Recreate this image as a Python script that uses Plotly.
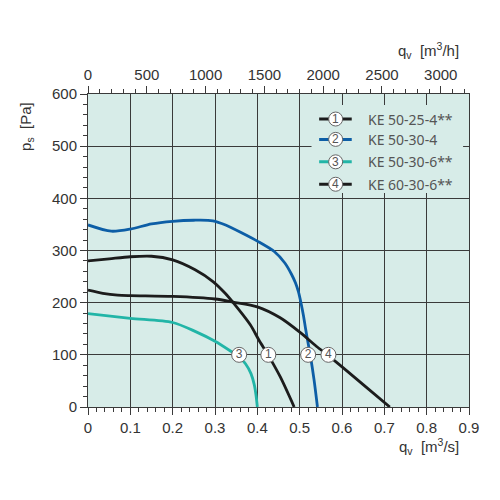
import plotly.graph_objects as go

# Fan curves, static pressure [Pa] over air flow [m3/s]
q_ke50254 = [0, 0.05, 0.1, 0.15, 0.2, 0.253, 0.296, 0.324, 0.343, 0.383, 0.404, 0.426, 0.454, 0.487]
p_ke50254 = [280, 284, 288, 289, 282, 263, 240, 218, 200, 158, 128, 99, 58, 0]

q_ke50304 = [0, 0.055, 0.1, 0.15, 0.2, 0.25, 0.295, 0.325, 0.365, 0.40, 0.44, 0.465, 0.481, 0.49, 0.497, 0.503, 0.509, 0.514, 0.520, 0.526, 0.534, 0.542]
p_ke50304 = [349, 337, 341, 351, 356, 358, 357, 349, 333, 318, 298, 276, 254, 238, 221, 200, 175, 150, 122, 95, 52, 0]

q_ke50306 = [0, 0.1, 0.2, 0.253, 0.30, 0.339, 0.357, 0.372, 0.385, 0.393, 0.397, 0.40]
p_ke50306 = [179, 170, 162, 145, 126, 106, 96, 83, 64, 42, 22, 0]

q_ke60306 = [0, 0.035, 0.07, 0.1, 0.2, 0.3, 0.343, 0.40, 0.454, 0.501, 0.54, 0.567, 0.603, 0.65, 0.713]
p_ke60306 = [224, 218, 214.5, 213.5, 212, 207, 201, 192, 171, 143, 116, 99, 75, 43, 0]

names = ["KE 50-25-4**", "KE 50-30-4", "KE 50-30-6**", "KE 60-30-6**"]
numbers = ["1", "2", "3", "4"]
colors = ["#1c1c1c", "#0d5ea6", "#22b5a7", "#1c1c1c"]

# circled labels on the curves at 100 Pa
label_q = [0.426, 0.520, 0.357, 0.568]
label_p = [100, 100, 100, 100]

# legend rows (data coords inside the plot)
legend_p = [552, 513, 470, 427]

bg = "#d7ece8"
grid = "#3a3a3a"
tickfont = dict(family="Liberation Sans, Arial", size=15, color="#333")
titlefont = dict(family="Liberation Sans, Arial", size=15, color="#333")

fig = go.Figure()

curves = [(q_ke50254, p_ke50254), (q_ke50304, p_ke50304),
          (q_ke50306, p_ke50306), (q_ke60306, p_ke60306)]
for (q, p), c, n in zip(curves, colors, names):
    fig.add_trace(go.Scatter(x=q, y=p, mode="lines", name=n,
                             line=dict(color=c, width=2.8, shape="spline", smoothing=0.8),
                             showlegend=False))

fig.add_trace(go.Scatter(x=label_q, y=label_p, mode="markers+text", text=numbers,
                         textposition="middle center",
                         textfont=dict(family="Liberation Sans, Arial", size=12, color="#555"),
                         marker=dict(size=15, color="white", line=dict(color="#666", width=1)),
                         showlegend=False, hoverinfo="skip"))

# dummy trace for the top m3/h axis
fig.add_trace(go.Scatter(x=[0, 3240], y=[0, 0], xaxis="x2", mode="markers",
                         marker=dict(opacity=0), showlegend=False, hoverinfo="skip"))

# custom legend
shapes = [dict(type="rect", xref="x", yref="y", x0=0.528, x1=0.886, y0=410, y1=579,
               fillcolor=bg, line=dict(width=0), layer="above")]
annotations = []
for yp, c, num, n in zip(legend_p, colors, numbers, names):
    shapes.append(dict(type="line", xref="x", yref="y", x0=0.546, x1=0.623, y0=yp, y1=yp,
                       line=dict(color=c, width=3), layer="above"))
    shapes.append(dict(type="circle", xref="x", yref="y", xsizemode="pixel", ysizemode="pixel",
                       xanchor=0.585, yanchor=yp, x0=-7, x1=7, y0=-7, y1=7,
                       fillcolor="white", line=dict(color="#666", width=1), layer="above"))
    annotations.append(dict(x=0.585, y=yp, xref="x", yref="y", text=num, showarrow=False,
                            font=dict(family="Liberation Sans, Arial", size=12, color="#555")))
    annotations.append(dict(x=0.656, y=yp, xref="x", yref="y", text=n, showarrow=False,
                            xanchor="left", yanchor="middle",
                            font=dict(family="Noto Sans", size=14, color="#555")))

annotations += [
    dict(x=-0.16, y=0.895, xref="paper", yref="paper", text="p<sub>s</sub>  [Pa]", textangle=-90,
         xanchor="center", yanchor="middle", showarrow=False, font=titlefont),
    dict(x=0.98, y=1.14, xref="paper", yref="paper", text="q<sub>v</sub>  [m<sup>3</sup>/h]",
         xanchor="right", yanchor="middle", showarrow=False, font=titlefont),
    dict(x=0.98, y=-0.127, xref="paper", yref="paper", text="q<sub>v</sub>  [m<sup>3</sup>/s]",
         xanchor="right", yanchor="middle", showarrow=False, font=titlefont),
]

fig.update_layout(
    width=492, height=492,
    margin=dict(l=80, r=31, t=86, b=93),
    paper_bgcolor="white", plot_bgcolor=bg,
    showlegend=False,
    shapes=shapes, annotations=annotations,
    xaxis=dict(range=[0, 0.9], dtick=0.1, ticks="outside", ticklen=7,
               tickcolor=grid, showgrid=True, gridcolor=grid, gridwidth=1,
               showline=True, linecolor=grid, mirror=True, zeroline=False,
               tickfont=tickfont,
               minor=dict(dtick=0.02, ticks="outside", ticklen=4, tickcolor=grid, showgrid=False)),
    xaxis2=dict(range=[0, 3240], overlaying="x", side="top", anchor="y", dtick=500,
                ticks="outside", ticklen=7, tickcolor=grid, showgrid=False,
                showline=True, linecolor=grid, zeroline=False, tickfont=tickfont,
                minor=dict(dtick=100, ticks="outside", ticklen=4, tickcolor=grid, showgrid=False)),
    yaxis=dict(range=[0, 600], dtick=100, ticks="outside", ticklen=7, tickcolor=grid,
               showgrid=True, gridcolor=grid, gridwidth=1,
               showline=True, linecolor=grid, mirror=True, zeroline=False,
               tickfont=tickfont,
               minor=dict(dtick=20, ticks="outside", ticklen=4, tickcolor=grid, showgrid=False)),
)

fig.write_html("out.html")
